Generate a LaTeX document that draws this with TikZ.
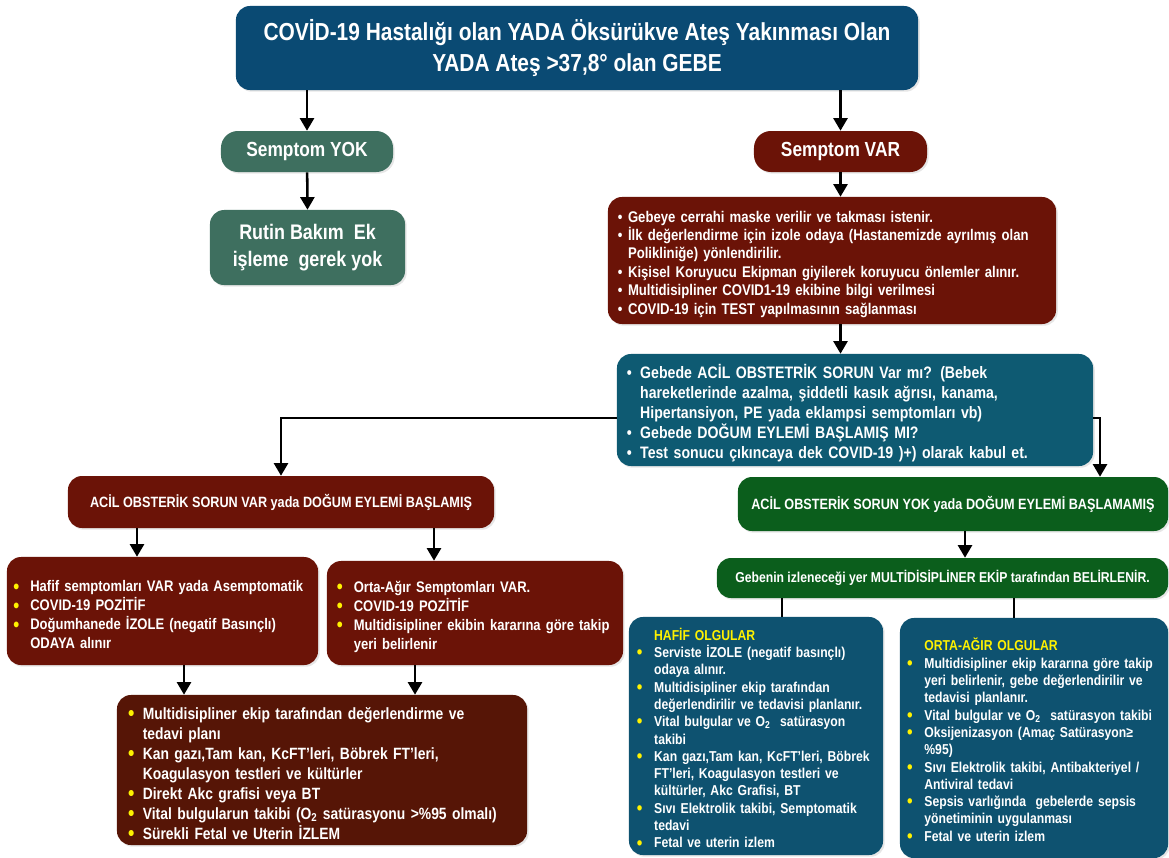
\documentclass[tikz,border=0pt]{standalone}
\usepackage{fontspec}
\setmainfont{Liberation Sans}[FakeStretch=0.85]
\usetikzlibrary{arrows.meta, positioning, shadows}

\definecolor{titleblue}{HTML}{0A4A73}
\definecolor{sagegreen}{HTML}{3E6F5F}
\definecolor{darkred}{HTML}{6B1307}
\definecolor{tealq}{HTML}{0E5A72}
\definecolor{darkgreen}{HTML}{0B5E1C}
\definecolor{darkbrown}{HTML}{561506}
\definecolor{tealbox}{HTML}{0E5270}
\definecolor{bulyel}{HTML}{FFF200}

% bullet list: [label]{indent}
\newenvironment{blist}[2][\textbullet]{%
  \begin{list}{#1}{\setlength{\leftmargin}{#2}\setlength{\labelwidth}{#2}%
    \setlength{\labelsep}{0pt}\setlength{\itemsep}{0pt}\setlength{\parsep}{0pt}%
    \setlength{\topsep}{0pt}\setlength{\partopsep}{0pt}\setlength{\itemindent}{0pt}%
    \def\makelabel##1{##1\hfil}}}{\end{list}}
\newcommand{\ybul}{\textcolor{bulyel}{\raisebox{-0.08em}{\scalebox{1.3}{\textbullet}}}}

\tikzset{
  box/.style={rounded corners=10pt, inner sep=0pt, text=white, font=\bfseries, align=center,
              drop shadow={opacity=0.2, shadow xshift=1.2pt, shadow yshift=-1.2pt}},
  listbox/.style={box, align=left},
  arr/.style={-{Triangle[width=10pt,length=9pt]}, line width=1.8pt},
  link/.style={line width=1.8pt},
}

\begin{document}
\begin{tikzpicture}[x=0.025cm, y=-0.025cm]
  \useasboundingbox (0,0) rectangle (1169,857);

  % top row
  \node[box, fill=titleblue, minimum width=17.05cm, minimum height=2.1cm,
        font=\bfseries\fontsize{17.5}{22}\selectfont] (title) at (577,48)
        {COVİD-19 Hastalığı olan YADA Öksürükve Ateş Yakınması Olan\\ YADA Ateş >37,8° olan GEBE};

  \node[box, fill=sagegreen, rounded corners=12pt, minimum width=4.3cm, minimum height=1.025cm,
        font=\bfseries\fontsize{14.5}{19}\selectfont] (symyok) at (307,151.5) {Semptom YOK};
  \node[box, fill=sagegreen, minimum width=4.875cm, minimum height=1.875cm,
        font=\bfseries\fontsize{15}{19}\selectfont] (rutin) at (307.5,247.5) {Rutin Bakım\ \ Ek\\ işleme\ \ gerek yok};
  \node[box, fill=darkred, rounded corners=12pt, minimum width=4.325cm, minimum height=1.025cm,
        font=\bfseries\fontsize{14.5}{19}\selectfont] (symvar) at (840.5,151.5) {Semptom VAR};

  % right branch
  \node[listbox, fill=darkred, minimum width=11.2cm, minimum height=3.175cm, text width=10.7cm,
        inner xsep=0.25cm, font=\bfseries\fontsize{11}{13.1}\selectfont] (redlist) at (832,260.5) {%
    \begin{blist}{0.65em}
    \item Gebeye cerrahi maske verilir ve takması istenir.
    \item İlk değerlendirme için izole odaya (Hastanemizde ayrılmış olan\\ Polikliniğe) yönlendirilir.
    \item Kişisel Koruyucu Ekipman giyilerek koruyucu önlemler alınır.
    \item Multidisipliner COVID1-19 ekibine bilgi verilmesi
    \item COVID-19 için TEST yapılmasının sağlanması
    \end{blist}};

  \node[listbox, fill=tealq, minimum width=11.9cm, minimum height=2.8cm, text width=11.4cm,
        inner xsep=0.25cm, font=\bfseries\fontsize{11.8}{14.2}\selectfont] (question) at (855,410) {%
    \begin{blist}{0.8em}
    \item Gebede ACİL OBSTETRİK SORUN Var mı? (Bebek\\ hareketlerinde azalma, şiddetli kasık ağrısı, kanama,\\ Hipertansiyon, PE yada eklampsi semptomları vb)
    \item Gebede DOĞUM EYLEMİ BAŞLAMIŞ MI?
    \item Test sonucu çıkıncaya dek COVID-19 )+) olarak kabul et.
    \end{blist}};

  % emergency / no emergency
  \node[box, fill=darkred, minimum width=10.65cm, minimum height=1.3cm,
        font=\bfseries\fontsize{10.6}{13}\selectfont] (acilvar) at (281,502)
        {ACİL OBSTERİK SORUN VAR yada DOĞUM EYLEMİ BAŞLAMIŞ};
  \node[box, fill=darkgreen, minimum width=10.75cm, minimum height=1.35cm,
        font=\bfseries\fontsize{10.6}{13}\selectfont] (acilyok) at (953,504)
        {ACİL OBSTERİK SORUN YOK yada DOĞUM EYLEMİ BAŞLAMAMIŞ};
  \node[box, fill=darkgreen, minimum width=11.275cm, minimum height=1.0cm,
        font=\bfseries\fontsize{10.2}{12}\selectfont] (gebenin) at (942.5,578)
        {Gebenin izleneceği yer MULTİDİSİPLİNER EKİP tarafından BELİRLENİR.};

  % left lower boxes
  \node[listbox, fill=darkred, minimum width=7.775cm, minimum height=2.7cm, text width=7.45cm,
        inner xsep=0.16cm, font=\bfseries\fontsize{10.9}{13.5}\selectfont] (mild) at (162.5,611) {%
    \begin{blist}[\ybul]{1.1em}
    \item Hafif semptomları VAR yada Asemptomatik
    \item COVID-19 POZİTİF
    \item Doğumhanede İZOLE (negatif Basınçlı)\\ ODAYA alınır
    \end{blist}};
  \node[listbox, fill=darkred, minimum width=7.4cm, minimum height=2.6cm, text width=6.9cm,
        inner xsep=0.25cm, font=\bfseries\fontsize{10.9}{13.5}\selectfont] (severe) at (475,613) {%
    \begin{blist}[\ybul]{1.1em}
    \item Orta-Ağır Semptomları VAR.
    \item COVID-19 POZİTİF
    \item Multidisipliner ekibin kararına göre takip\\ yeri belirlenir
    \end{blist}};
  \node[listbox, fill=darkbrown, minimum width=10.25cm, minimum height=3.75cm, text width=9.69cm,
        inner xsep=0.28cm, font=\bfseries\fontsize{11.6}{14.2}\selectfont] (care) at (322,770) {%
    \begin{blist}[\ybul]{0.9em}
    \item Multidisipliner ekip tarafından değerlendirme ve\\ tedavi planı
    \item Kan gazı,Tam kan, KcFT’leri, Böbrek FT’leri,\\ Koagulasyon testleri ve kültürler
    \item Direkt Akc grafisi veya BT
    \item Vital bulgularun takibi (O\textsubscript{2} satürasyonu >\%95 olmalı)
    \item Sürekli Fetal ve Uterin İZLEM
    \end{blist}};

  % right lower boxes
  \node[listbox, fill=tealbox, minimum width=6.35cm, minimum height=5.95cm, text width=5.95cm,
        inner xsep=0.2cm, font=\bfseries\fontsize{10.2}{12.3}\selectfont] (hafif) at (756,736) {%
    \begin{blist}[\ybul]{1.2em}
    \item[] \textcolor{bulyel}{HAFİF OLGULAR}
    \item Serviste İZOLE (negatif basınçlı)\\ odaya alınır.
    \item Multidisipliner ekip tarafından\\ değerlendirilir ve tedavisi planlanır.
    \item Vital bulgular ve O\textsubscript{2}\ \ satürasyon\\ takibi
    \item Kan gazı,Tam kan, KcFT’leri, Böbrek\\ FT’leri, Koagulasyon testleri ve\\ kültürler, Akc Grafisi, BT
    \item Sıvı Elektrolik takibi, Semptomatik\\ tedavi
    \item Fetal ve uterin izlem
    \end{blist}};
  \node[listbox, fill=tealbox, minimum width=6.7cm, minimum height=6.0cm, text width=6.34cm,
        inner xsep=0.18cm, font=\bfseries\fontsize{10.2}{12.3}\selectfont] (orta) at (1034,738) {%
    \begin{blist}[\ybul]{1.2em}
    \item[] \textcolor{bulyel}{ORTA-AĞIR OLGULAR}
    \item Multidisipliner ekip kararına göre takip\\ yeri belirlenir, gebe değerlendirilir ve\\ tedavisi planlanır.
    \item Vital bulgular ve O\textsubscript{2}\ \ satürasyon takibi
    \item Oksijenizasyon (Amaç Satürasyon≥\\ \%95)
    \item Sıvı Elektrolik takibi, Antibakteriyel /\\ Antiviral tedavi
    \item Sepsis varlığında\ \ gebelerde sepsis\\ yönetiminin uygulanması
    \item Fetal ve uterin izlem
    \end{blist}};

  % x positions of the connectors
  \coordinate (xvar) at (1100,0);
  \coordinate (xmild) at (137,0);
  \coordinate (xsev) at (434,0);
  \coordinate (xmildd) at (184,0);
  \coordinate (xsevd) at (415,0);
  \coordinate (xgeb) at (965,0);
  \coordinate (xhaf) at (782,0);
  \coordinate (xort) at (1014,0);

  % connectors
  \draw[arr] (title.south -| symyok) -- (symyok.north);
  \draw[arr] (title.south -| symvar) -- (symvar.north);
  \draw[arr] (symyok) -- (rutin.north);
  \draw[arr] (symvar) -- (redlist.north -| symvar);
  \draw[arr] (redlist.south -| symvar) -- (question.north -| symvar);
  \draw[arr] ([yshift=-0.2cm]question.west) -| (acilvar.north);
  \draw[arr] ([yshift=-0.2cm]question.east) -| (acilyok.north -| xvar);
  \draw[arr] (acilvar.south -| xmild) -- (mild.north -| xmild);
  \draw[arr] (acilvar.south -| xsev) -- (severe.north -| xsev);
  \draw[arr] (mild.south -| xmildd) -- (care.north -| xmildd);
  \draw[arr] (severe.south -| xsevd) -- (care.north -| xsevd);
  \draw[arr] (acilyok.south -| xgeb) -- (gebenin.north -| xgeb);
  \draw[link] (gebenin.south -| xhaf) -- (hafif.north -| xhaf);
  \draw[link] (gebenin.south -| xort) -- (orta.north -| xort);
\end{tikzpicture}
\end{document}
